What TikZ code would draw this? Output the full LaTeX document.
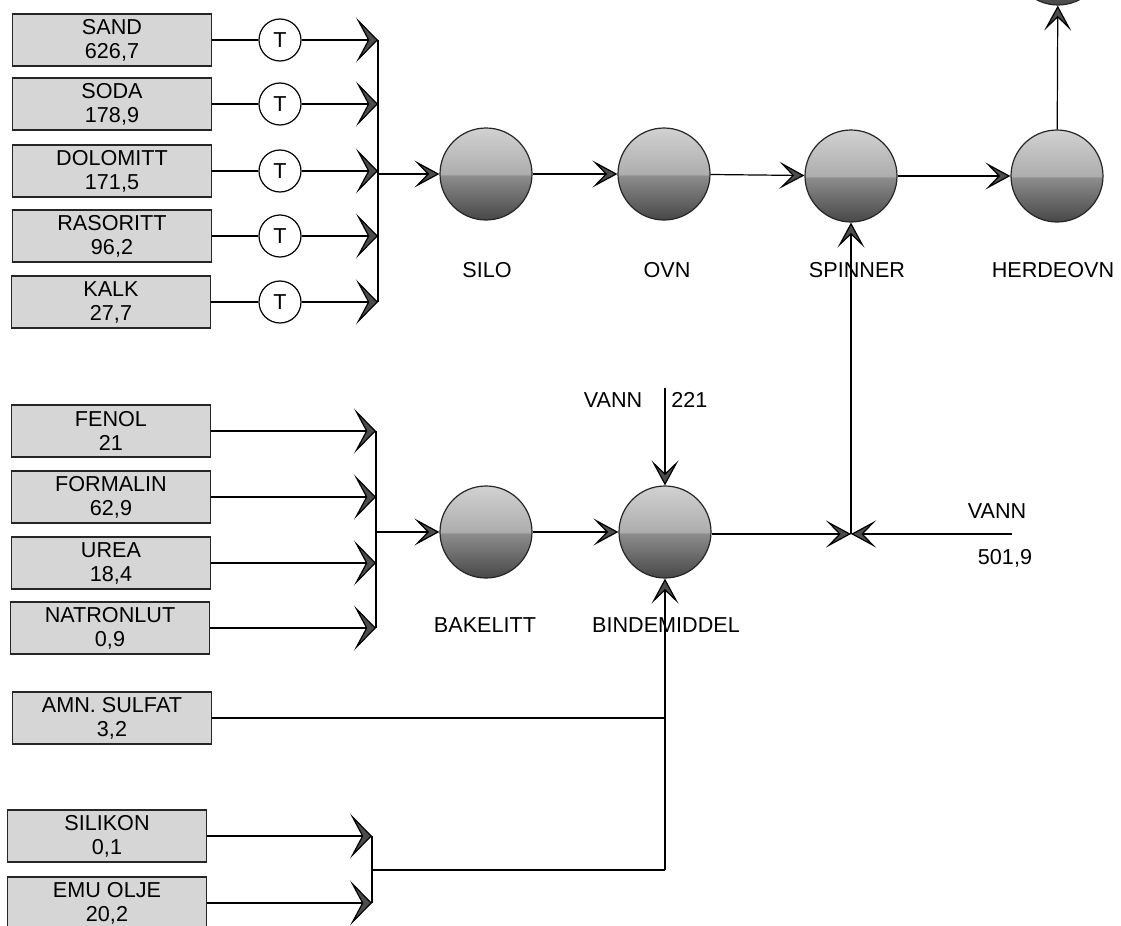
\documentclass[tikz,border=0pt]{standalone}
\usepackage{fontspec}
\setmainfont{Liberation Sans}
\usetikzlibrary{arrows.meta}
\pgfdeclareverticalshading{sphereshade}{100bp}{color(0bp)=(black!72); color(25bp)=(black!72); color(49bp)=(black!45); color(50bp)=(black!32); color(75bp)=(black!18); color(100bp)=(black!18)}
\tikzset{
 lbl/.style={font=\fontsize{10.8}{12}\selectfont, inner sep=0pt},
 matbox/.style={draw=black!85, fill=black!16, line width=0.6pt, minimum width=99.5pt, minimum height=26pt, align=center, font=\fontsize{10.8}{12}\selectfont, inner sep=0pt},
 tnode/.style={circle, draw, line width=0.6pt, minimum size=21pt, inner sep=0pt, fill=white, font=\fontsize{10.8}{12}\selectfont},
 unit/.style={circle, draw=black!85, line width=0.6pt, minimum size=46pt, inner sep=0pt, shading=sphereshade},
 flow/.style={line width=0.6pt},
 bigtip/.style={-{Stealth[length=11pt,width=22.5pt,inset=6pt,fill=black!70]}},
 smalltip/.style={-{Stealth[length=12.5pt,width=13.5pt,inset=6.5pt,fill=black!70]}},
}
\begin{document}
\begin{tikzpicture}[x=0.5pt,y=-0.5pt]
\clip (0,0) rectangle (1121,926);
\fill[white] (0,0) rectangle (1121,926);
% top group
\node[matbox] (sand) at (112,40) {SAND\\626,7};
\node[matbox] (soda) at (112,104) {SODA\\178,9};
\node[matbox] (dolo) at (112,171) {DOLOMITT\\171,5};
\node[matbox] (raso) at (112,236) {RASORITT\\96,2};
\node[matbox] (kalk) at (111,302) {KALK\\27,7};
\node[tnode] (t1) at (280,40) {T};
\node[tnode] (t2) at (280,104) {T};
\node[tnode] (t3) at (280,171) {T};
\node[tnode] (t4) at (280,236) {T};
\node[tnode] (t5) at (280,302) {T};
\coordinate (b1) at (378,40);
\coordinate (b2) at (378,104);
\coordinate (b3) at (378,171);
\coordinate (b4) at (378,236);
\coordinate (b5) at (378,302);
\foreach \s/\t/\b in {sand/t1/b1,soda/t2/b2,dolo/t3/b3,raso/t4/b4,kalk/t5/b5}{
  \draw[flow] (\s) -- (\t);
  \draw[flow,bigtip] (\t) -- (\b);
}
\draw[flow] (b1) -- (b5);
% units top row
\node[unit] (silo) at (486,174) {};
\node[unit] (ovn) at (664,174) {};
\node[unit] (spin) at (851,176) {};
\node[unit] (herd) at (1057,176) {};
\node[unit] (topu) at (1058,-41) {};
\node[lbl] (lsilo) at (487,270) {SILO};
\node[lbl] (lovn) at (667,270) {OVN};
\node[lbl] (lspin) at (857,270) {SPINNER};
\node[lbl] (lherd) at (1053,270) {HERDEOVN};
\draw[flow,smalltip] (b3 |- silo) -- (silo);
\draw[flow,smalltip] (silo) -- (ovn);
\draw[flow,smalltip] (ovn) -- (spin);
\draw[flow,smalltip] (spin) -- (herd);
\draw[flow,smalltip] (herd) -- (topu);
% second group
\node[matbox] (fenol) at (111,431) {FENOL\\21};
\node[matbox] (form) at (111,497) {FORMALIN\\62,9};
\node[matbox] (urea) at (111,563) {UREA\\18,4};
\node[matbox] (natr) at (110,628) {NATRONLUT\\0,9};
\coordinate (c1) at (376,431);
\coordinate (c2) at (376,497);
\coordinate (c3) at (376,563);
\coordinate (c4) at (376,628);
\coordinate (co) at (376,532);
\foreach \s/\b in {fenol/c1,form/c2,urea/c3,natr/c4}{
  \draw[flow,bigtip] (\s) -- (\b);
}
\draw[flow] (c1) -- (c4);
\node[unit] (bake) at (486,532) {};
\node[unit] (bind) at (665,532) {};
\node[lbl] (lbake) at (485,625) {BAKELITT};
\node[lbl] (lbind) at (666,625) {BINDEMIDDEL};
\draw[flow,smalltip] (co) -- (bake);
\draw[flow,smalltip] (bake) -- (bind);
% water in
\coordinate (v1) at (665,388);
\node[lbl] (lvann1) at (613,400) {VANN};
\node[lbl,anchor=west] (l221) at (671,400) {221};
\draw[flow,smalltip] (v1) -- (bind);
% merge
\coordinate (m) at (851,534);
\coordinate (v2) at (1012,534);
\node[lbl] (lvann2) at (997,511) {VANN};
\node[lbl] (l5019) at (1005,558) {501,9};
\draw[flow,smalltip] (bind.east |- m) -- (m);
\draw[flow,smalltip] (v2) -- (m);
\draw[flow,smalltip] (m) -- (spin);
% lower group
\node[matbox] (amn) at (112,718) {AMN. SULFAT\\3,2};
\node[matbox] (sili) at (107,836) {SILIKON\\0,1};
\node[matbox] (emu) at (107,903) {EMU OLJE\\20,2};
\coordinate (j1) at (665,718);
\coordinate (j2) at (665,870);
\coordinate (d1) at (372,836);
\coordinate (d2) at (372,903);
\coordinate (dout) at (372,870);
\draw[flow] (amn) -- (j1);
\draw[flow,bigtip] (sili) -- (d1);
\draw[flow,bigtip] (emu) -- (d2);
\draw[flow] (d1) -- (d2);
\draw[flow] (dout) -- (j2);
\draw[flow,smalltip] (j2) -- (bind);
\end{tikzpicture}
\end{document}
